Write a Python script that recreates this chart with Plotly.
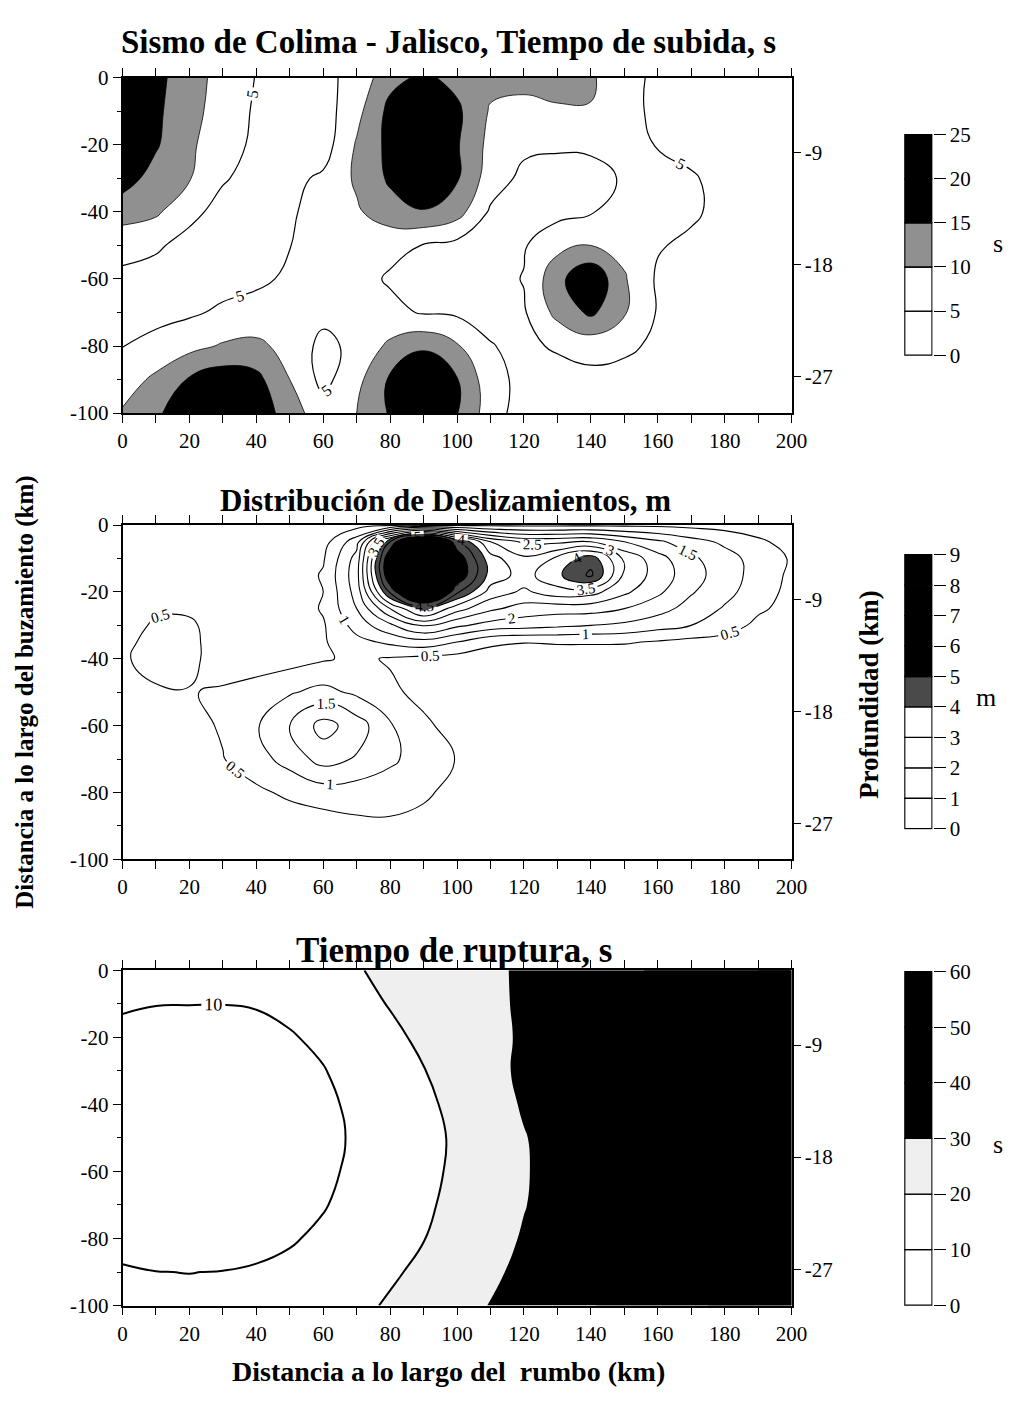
import plotly.graph_objects as go

W, H = 1024, 1407
SERIF = "Liberation Serif"

# ---------------- data ----------------
x_km = list(range(0, 201, 10))
y_km = [0, -10, -20, -30, -40, -50, -60, -70, -80, -90, -100]
y_slip = [0, -5, -10, -15, -20, -25, -30, -35, -40, -50, -60, -70, -80, -90, -100]

# rise time (s)
rise = [
    [22, 16.5, 12, 8.3, 4.8, 3.5, 3.8, 6.5, 13.5, 16, 13.5, 11.5, 11.5, 11.5, 10.5, 7.5, 3.5, 3, 3, 3, 3],
    [22, 16, 11.5, 8, 4.3, 2.8, 2.7, 8.5, 16.5, 22, 16, 9.5, 8.5, 9.5, 9.8, 6.5, 4, 3.5, 3.5, 3.5, 3.5],
    [21, 15.5, 11, 6.5, 4.3, 2.8, 2.7, 10.5, 16.5, 23, 15.5, 8.5, 6, 5.5, 5.5, 6, 4.8, 3.5, 3, 3, 3],
    [17, 13.2, 10.3, 5.4, 3.5, 3.8, 5.8, 10.8, 15.8, 21, 15.5, 7.5, 3.8, 3.5, 4, 5.3, 7, 5.5, 3.5, 3, 3],
    [12.5, 10.8, 6.2, 3.5, 3, 4.2, 7.5, 9.3, 13, 14.5, 12, 4.3, 3, 3.5, 4.7, 6.5, 7.5, 5.8, 3.5, 3, 3],
    [6.2, 5.6, 3.5, 3, 3.5, 4.9, 7, 7.5, 6.2, 4.8, 3.5, 3, 4.6, 8.5, 10, 8.5, 5.4, 4, 3.2, 3, 3],
    [4.2, 3.3, 3, 3.3, 4, 5.8, 7.5, 6.5, 4.5, 3.5, 3, 3.5, 5.2, 13.5, 19.5, 10.5, 4.3, 3.5, 3, 3, 3],
    [4, 3.5, 4.3, 5.8, 7, 7.5, 6.5, 6.5, 6.2, 4.6, 4.2, 3.8, 4.5, 11.5, 16, 10.5, 4.6, 3.5, 3, 3, 3],
    [4.9, 6.5, 8.5, 10.5, 11, 8.5, 3.5, 6.5, 11, 14, 10.5, 5.2, 4, 5.6, 7, 6, 4, 3, 3, 3, 3],
    [7.6, 11, 15.5, 18, 16.5, 10, 3.5, 8.5, 15.8, 21, 15.3, 6.9, 3.5, 3, 3.5, 3.2, 3, 3, 3, 3, 3],
    [10.5, 14, 19, 22, 19, 12, 7.5, 10, 15.5, 22, 15.2, 7.4, 2.5, 3, 3, 3, 3, 3, 3, 3, 3],
]

# slip (m)
slip = [
    [0.05, 0.05, 0.05, 0.05, 0.05, 0.05, 0.1, 0.3, 0.4, 0.4, 0.4, 0.4, 0.4, 0.4, 0.4, 0.4, 0.4, 0.35, 0.3, 0.2, 0.1],
    [0.05, 0.05, 0.05, 0.05, 0.05, 0.05, 0.3, 1.3, 4.5, 7.2, 4.6, 3.0, 2.4, 2.4, 2.5, 2.0, 1.6, 1.2, 0.9, 0.6, 0.3],
    [0.05, 0.05, 0.05, 0.05, 0.05, 0.15, 0.45, 1.7, 5.6, 9.0, 5.4, 3.7, 3.1, 3.6, 4.3, 2.9, 2.2, 1.6, 1.2, 0.8, 0.45],
    [0.05, 0.05, 0.05, 0.05, 0.05, 0.2, 0.55, 1.8, 5.6, 9.0, 5.5, 3.8, 3.3, 3.9, 4.6, 2.9, 2.3, 1.7, 1.25, 0.8, 0.4],
    [0.05, 0.05, 0.05, 0.05, 0.05, 0.2, 0.5, 1.7, 4.6, 6.8, 4.6, 3.3, 2.9, 3.3, 3.2, 2.6, 2.1, 1.55, 1.15, 0.75, 0.35],
    [0.1, 0.4, 0.4, 0.15, 0.1, 0.2, 0.55, 1.5, 3.0, 4.2, 3.2, 2.6, 2.3, 2.2, 2.2, 2.0, 1.7, 1.3, 0.95, 0.6, 0.3],
    [0.2, 0.6, 0.6, 0.2, 0.1, 0.2, 0.45, 1.2, 1.9, 2.6, 2.1, 1.8, 1.7, 1.6, 1.5, 1.4, 1.2, 1.0, 0.8, 0.35, 0.2],
    [0.35, 0.7, 0.65, 0.2, 0.1, 0.2, 0.45, 0.85, 1.1, 1.3, 1.0, 0.6, 0.52, 0.55, 0.55, 0.55, 0.45, 0.35, 0.25, 0.15, 0.1],
    [0.45, 0.65, 0.6, 0.3, 0.2, 0.3, 0.45, 0.6, 0.45, 0.35, 0.3, 0.25, 0.2, 0.2, 0.2, 0.15, 0.1, 0.1, 0.05, 0.05, 0.05],
    [0.3, 0.45, 0.48, 0.55, 0.75, 0.95, 1.15, 0.9, 0.6, 0.35, 0.2, 0.1, 0.05, 0.05, 0.05, 0.05, 0.05, 0.05, 0.05, 0.05, 0.05],
    [0.1, 0.2, 0.35, 0.55, 0.95, 1.5, 2.2, 1.75, 1.05, 0.6, 0.3, 0.1, 0.05, 0.05, 0.05, 0.05, 0.05, 0.05, 0.05, 0.05, 0.05],
    [0.05, 0.1, 0.2, 0.48, 0.8, 1.2, 1.7, 1.45, 1.1, 0.75, 0.48, 0.15, 0.05, 0.05, 0.05, 0.05, 0.05, 0.05, 0.05, 0.05, 0.05],
    [0.05, 0.05, 0.1, 0.2, 0.4, 0.6, 0.75, 0.75, 0.7, 0.6, 0.3, 0.1, 0.05, 0.05, 0.05, 0.05, 0.05, 0.05, 0.05, 0.05, 0.05],
    [0.05, 0.05, 0.05, 0.05, 0.1, 0.2, 0.25, 0.38, 0.42, 0.3, 0.15, 0.05, 0.05, 0.05, 0.05, 0.05, 0.05, 0.05, 0.05, 0.05, 0.05],
    [0.05, 0.05, 0.05, 0.05, 0.05, 0.05, 0.05, 0.05, 0.05, 0.05, 0.05, 0.05, 0.05, 0.05, 0.05, 0.05, 0.05, 0.05, 0.05, 0.05, 0.05],
]

# rupture time (s)
rupt = [
    [10.8, 10.7, 10.6, 10.8, 11.5, 13, 15.5, 19.3, 22.3, 24.6, 26.8, 28.8, 31, 33.5, 36, 38.5, 41, 44, 47, 50, 53],
    [10.3, 10.1, 10.08, 10.05, 10.3, 11.5, 13.8, 17, 20.5, 23.5, 26.2, 28.6, 31, 33.5, 36, 38.5, 41, 44, 47, 50, 53],
    [9.3, 8.5, 8, 8, 8.6, 9.5, 11.3, 14.5, 18, 21.8, 25, 28, 31, 33.5, 36, 38.5, 41, 44, 47, 50, 53],
    [8.2, 7, 6.5, 6.5, 7, 8, 9.7, 12.5, 15.7, 19.7, 23.5, 28, 31.3, 34, 36.5, 39, 41.5, 44.5, 47.5, 50.5, 53.5],
    [7.2, 5.8, 5.2, 5.3, 6, 7.2, 8.8, 11.2, 14.3, 18.2, 22.2, 26.5, 30.8, 33.8, 36.5, 39, 41.5, 44.5, 47.5, 50.5, 53.5],
    [6.8, 5.2, 4.6, 4.9, 5.6, 6.8, 8.4, 10.8, 13.8, 17.5, 21.2, 25.2, 29.6, 33, 36, 39, 42, 45, 48, 51, 54],
    [7, 5.5, 4.9, 5.1, 5.8, 7, 8.8, 11.2, 14.2, 17.8, 21.5, 25.4, 29.4, 32.8, 36, 39, 42, 45, 48, 51, 54],
    [7.8, 6.4, 5.8, 6, 6.8, 8.2, 9.6, 12.2, 15.2, 18.6, 22.3, 26, 29.7, 33, 36, 39, 42, 45, 48, 51, 54],
    [9, 7.8, 7.3, 7.5, 8.2, 9.4, 11.2, 13.8, 16.8, 19.8, 23.3, 27, 30.7, 34, 37, 40, 43, 46, 49, 52, 55],
    [10.3, 10.05, 9.95, 10.1, 10.6, 11.5, 13.2, 15.8, 18.8, 21.8, 25, 28.5, 32, 35.2, 38, 41, 44, 47, 50, 53, 56],
    [11.5, 11.2, 11, 11.3, 12, 13.4, 15.2, 18, 21, 24, 27.2, 30.3, 33.5, 36.5, 39.5, 42.5, 45.5, 48.5, 51.5, 54.5, 57.5],
]

x_ticks = [0, 20, 40, 60, 80, 100, 120, 140, 160, 180, 200]
y_ticks = [0, -20, -40, -60, -80, -100]
depth_pos = [-22.3, -55.7, -89.2]
depth_text = ["-9", "-18", "-27"]

cb1_levels = [0, 5, 10, 15, 20, 25]
cb2_levels = [0, 1, 2, 3, 4, 5, 6, 7, 8, 9]
cb3_levels = [0, 10, 20, 30, 40, 50, 60]

GRAY1 = "#909090"
GRAY2 = "#4a4a4a"
GRAY3 = "#efefef"
cb1_colors = ["white", "white", GRAY1, "black", "black"]
cb2_colors = ["white"] * 4 + [GRAY2] + ["black"] * 4
cb3_colors = ["white", "white", GRAY3, "black", "black", "black"]

titles = ["Sismo de Colima - Jalisco, Tiempo de subida, s",
          "Distribución de Deslizamientos, m",
          "Tiempo de ruptura, s"]
title_size = [33, 31, 35]
units = ["s", "m", "s"]


def px(x):
    return x / W


def py(y):
    return 1 - y / H


# layout geometry (page pixels)
PX0, PX1 = 120, 803
panel_y = [(67, 408), (522, 862), (975, 1316)]
CBX0, CBX1 = 918, 947
cb_y = [(124, 350), (551, 832), (975, 1317)]

fig = go.Figure()

SM = 1.3
# ---- panel 1: rise time ----
fig.add_trace(go.Contour(
    x=x_km, y=y_km, z=rise, xaxis="x", yaxis="y", showscale=False, hoverinfo="skip",
    contours=dict(start=5, end=20, size=5, coloring="fill", showlines=False),
    colorscale=[[0, "white"], [0.375, "white"], [0.375, GRAY1], [0.625, GRAY1],
                [0.625, "black"], [1, "black"]],
    line=dict(width=0, smoothing=SM)))
fig.add_trace(go.Contour(
    x=x_km, y=y_km, z=rise, xaxis="x", yaxis="y", showscale=False, hoverinfo="skip",
    contours=dict(start=10, end=15, size=5, coloring="none"),
    line=dict(color="black", width=0.8, smoothing=SM)))
fig.add_trace(go.Contour(
    x=x_km, y=y_km, z=rise, xaxis="x", yaxis="y", showscale=False, hoverinfo="skip",
    contours=dict(start=5, end=5, size=5, coloring="none", showlabels=True,
                  labelfont=dict(family=SERIF, size=16, color="black")),
    line=dict(color="black", width=1.2, smoothing=SM)))

# ---- panel 2: slip ----
fig.add_trace(go.Contour(
    x=x_km, y=y_slip, z=slip, xaxis="x2", yaxis="y2", showscale=False, hoverinfo="skip",
    contours=dict(start=0.5, end=9, size=0.5, coloring="fill", showlines=False),
    colorscale=[[0, "white"], [0.416, "white"], [0.416, GRAY2], [0.514, GRAY2],
                [0.514, "black"], [1, "black"]],
    line=dict(width=0, smoothing=SM)))
fig.add_trace(go.Contour(
    x=x_km, y=y_slip, z=slip, xaxis="x2", yaxis="y2", showscale=False, hoverinfo="skip",
    contours=dict(start=0.5, end=9, size=0.5, coloring="none", showlabels=True,
                  labelfont=dict(family=SERIF, size=15, color="black")),
    line=dict(color="black", width=1.1, smoothing=SM)))

# ---- panel 3: rupture time ----
fig.add_trace(go.Contour(
    x=x_km, y=y_km, z=rupt, xaxis="x3", yaxis="y3", showscale=False, hoverinfo="skip",
    contours=dict(start=10, end=50, size=10, coloring="fill", showlines=False),
    colorscale=[[0, "white"], [0.3, "white"], [0.3, GRAY3], [0.5, GRAY3],
                [0.5, "black"], [1, "black"]],
    line=dict(width=0, smoothing=SM)))
fig.add_trace(go.Contour(
    x=x_km, y=y_km, z=rupt, xaxis="x3", yaxis="y3", showscale=False, hoverinfo="skip",
    contours=dict(start=20, end=20, size=10, coloring="none"),
    line=dict(color="black", width=2, smoothing=SM)))
fig.add_trace(go.Contour(
    x=x_km, y=y_km, z=rupt, xaxis="x3", yaxis="y3", showscale=False, hoverinfo="skip",
    contours=dict(start=10, end=10, size=10, coloring="none", showlabels=True,
                  labelfont=dict(family=SERIF, size=18, color="black")),
    line=dict(color="black", width=2, smoothing=SM)))

# invisible traces so the depth axes are drawn
for ya, xa in [("y4", "x"), ("y5", "x2"), ("y6", "x3")]:
    fig.add_trace(go.Scatter(x=[100], y=[-50], mode="markers", marker=dict(opacity=0),
                             xaxis=xa, yaxis=ya, hoverinfo="skip", showlegend=False))

# ---- colour bars as stacked bars ----
for i, (lev, cols) in enumerate([(cb1_levels, cb1_colors), (cb2_levels, cb2_colors),
                                  (cb3_levels, cb3_colors)]):
    n = len(cols)
    fig.add_trace(go.Bar(
        x=[0.5] * n, y=[lev[k + 1] - lev[k] for k in range(n)], base=lev[:-1],
        width=[0.96] * n, marker=dict(color=cols, line=dict(color="black", width=1.3)),
        xaxis="x%d" % (4 + i), yaxis="y%d" % (7 + i), hoverinfo="skip", showlegend=False))

tickfont = dict(family=SERIF, size=21, color="black")
layout = dict(
    width=W, height=H, margin=dict(l=0, r=0, t=0, b=0),
    paper_bgcolor="white", plot_bgcolor="white", showlegend=False, barmode="overlay",
    font=dict(family=SERIF, color="black"),
)

xdom = [px(PX0), px(PX1)]
for i in range(3):
    xn = "xaxis" if i == 0 else "xaxis%d" % (i + 1)
    yn = "yaxis" if i == 0 else "yaxis%d" % (i + 1)
    yid = "y" if i == 0 else "y%d" % (i + 1)
    xid = "x" if i == 0 else "x%d" % (i + 1)
    t, b = panel_y[i]
    ydom = [py(b), py(t)]
    layout[xn] = dict(
        domain=xdom, anchor=yid, range=[0, 200], tickmode="array", tickvals=x_ticks,
        ticktext=[str(v) for v in x_ticks], ticks="outside", ticklen=8, tickwidth=1.3,
        tickcolor="black", minor=dict(tickmode="linear", tick0=0, dtick=10, ticks="outside",
                                      ticklen=4, tickcolor="black"),
        showline=True, linecolor="black", linewidth=1.8, mirror="allticks",
        showgrid=False, zeroline=False, tickfont=tickfont, fixedrange=True)
    layout[yn] = dict(
        domain=ydom, anchor=xid, range=[-100, 0], tickmode="array", tickvals=y_ticks,
        ticktext=[str(v) for v in y_ticks], ticks="outside", ticklen=8, tickwidth=1.3,
        tickcolor="black", minor=dict(tickmode="linear", tick0=0, dtick=10, ticks="outside",
                                      ticklen=4, tickcolor="black"),
        showline=True, linecolor="black", linewidth=1.8, mirror=True,
        showgrid=False, zeroline=False, tickfont=tickfont, fixedrange=True)
    # depth axis on the right
    layout["yaxis%d" % (4 + i)] = dict(
        overlaying=yid, anchor=xid, side="right", range=[-100, 0], tickmode="array",
        tickvals=depth_pos, ticktext=depth_text, ticks="outside", ticklen=8, tickwidth=1.3,
        tickcolor="black", showline=False, showgrid=False, zeroline=False,
        tickfont=tickfont, fixedrange=True)
    # colour-bar axes
    c0, c1 = cb_y[i]
    lev = [cb1_levels, cb2_levels, cb3_levels][i]
    pad = (lev[-1] - lev[0]) * 0.004
    layout["xaxis%d" % (4 + i)] = dict(domain=[px(CBX0), px(CBX1)], anchor="y%d" % (7 + i),
                                       range=[0, 1], visible=False, fixedrange=True)
    layout["yaxis%d" % (7 + i)] = dict(
        domain=[py(c1), py(c0)], anchor="x%d" % (4 + i), side="right",
        range=[lev[0] - pad, lev[-1] + pad], tickmode="array", tickvals=lev,
        ticktext=[str(v) for v in lev], ticks="outside", ticklen=12, tickwidth=1.3,
        tickcolor="black", showline=False, showgrid=False, zeroline=False,
        tickfont=tickfont, fixedrange=True)

ann = []
title_pos = [(453, 31), (450, 497), (458, 955)]
for i in range(3):
    ann.append(dict(text="<b>%s</b>" % titles[i], x=px(title_pos[i][0]), y=py(title_pos[i][1]),
                    xref="paper", yref="paper", xanchor="center", yanchor="middle",
                    showarrow=False, font=dict(family=SERIF, size=title_size[i], color="black")))
unit_pos = [(1014, 236), (1002, 697), (1014, 1152)]
for i in range(3):
    ann.append(dict(text=units[i], x=px(unit_pos[i][0]), y=py(unit_pos[i][1]),
                    xref="paper", yref="paper", xanchor="center", yanchor="middle",
                    showarrow=False, font=dict(family=SERIF, size=26, color="black")))
ann.append(dict(text="<b>Distancia a lo largo del buzamiento (km)</b>", textangle=-90,
                x=px(21), y=py(692), xref="paper", yref="paper", xanchor="center",
                yanchor="middle", showarrow=False, font=dict(family=SERIF, size=25, color="black")))
ann.append(dict(text="<b>Profundidad (km)</b>", textangle=-90,
                x=px(882), y=py(694), xref="paper", yref="paper", xanchor="center",
                yanchor="middle", showarrow=False, font=dict(family=SERIF, size=27, color="black")))
ann.append(dict(text="<b>Distancia a lo largo del \u00a0rumbo (km)</b>",
                x=px(453), y=py(1383), xref="paper", yref="paper", xanchor="center",
                yanchor="middle", showarrow=False, font=dict(family=SERIF, size=28, color="black")))
layout["annotations"] = ann

fig.update_layout(**layout)
fig.write_html("out.html")
